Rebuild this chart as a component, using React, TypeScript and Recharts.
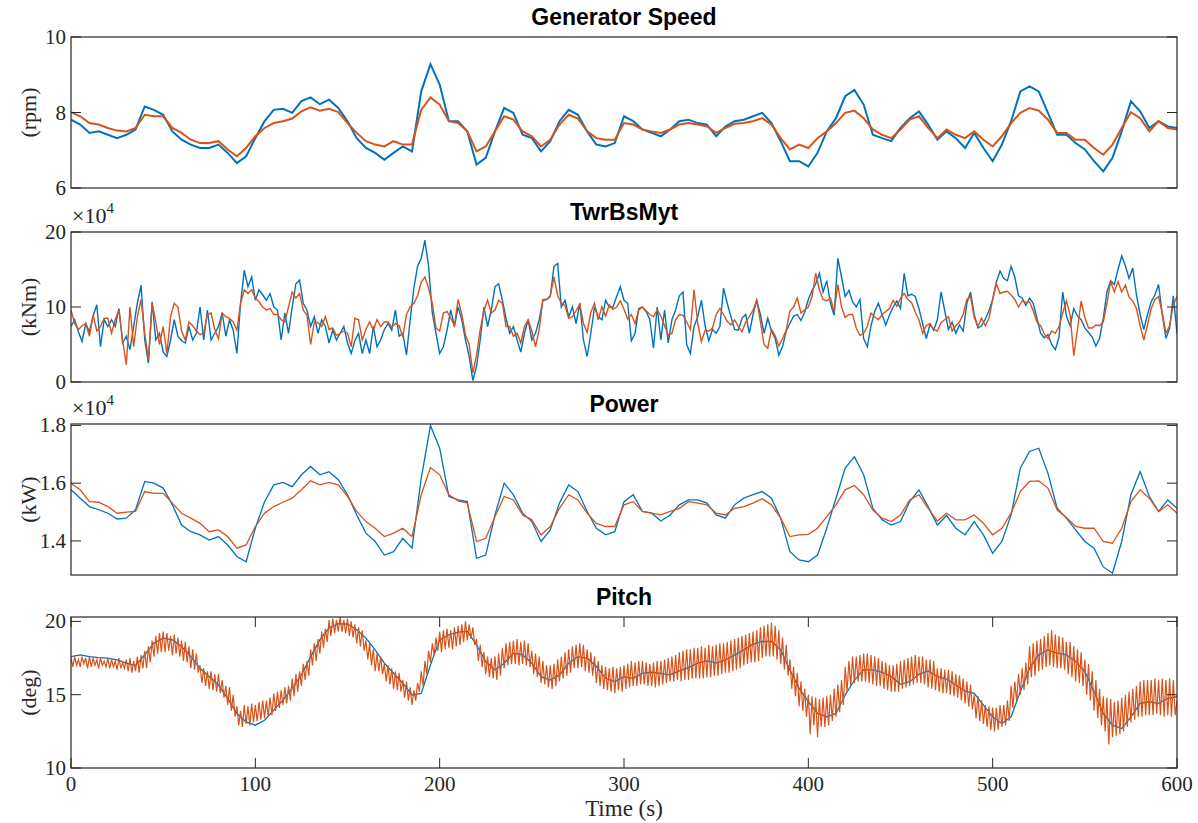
import { Line, LineChart, XAxis, YAxis } from "recharts";

// time steps (s) of the sampled series
const STEP_FAST = 1;
const STEP_TWR = 2;
const STEP_SLOW = 5;

const timeTicks = [0, 100, 200, 300, 400, 500, 600];

// Generator Speed (rpm), every 5 s
const genBlue = [
  7.81, 7.68, 7.46, 7.5, 7.41, 7.32, 7.41, 7.55, 8.16, 8.07,
  7.94, 7.5, 7.28, 7.15, 7.06, 7.06, 7.15, 6.93, 6.66, 6.84,
  7.32, 7.77, 8.07, 8.1, 7.99, 8.3, 8.4, 8.22, 8.34, 8.12,
  7.77, 7.32, 7.06, 6.93, 6.75, 6.93, 7.1, 6.97, 8.56, 9.28,
  8.74, 7.77, 7.77, 7.5, 6.62, 6.8, 7.5, 8.12, 7.99, 7.41,
  7.32, 6.97, 7.24, 7.77, 8.07, 7.94, 7.5, 7.15, 7.1, 7.19,
  7.9, 7.77, 7.55, 7.46, 7.37, 7.55, 7.77, 7.81, 7.72, 7.68,
  7.37, 7.63, 7.77, 7.81, 7.9, 7.99, 7.72, 7.24, 6.71, 6.71,
  6.57, 6.93, 7.5, 7.85, 8.43, 8.6, 8.21, 7.41, 7.32, 7.24,
  7.59, 7.85, 8.03, 7.68, 7.28, 7.5, 7.32, 7.06, 7.46, 7.06,
  6.71, 7.15, 7.77, 8.56, 8.69, 8.56, 7.99, 7.41, 7.41, 7.19,
  7.02, 6.71, 6.44, 6.8, 7.5, 8.3, 8.03, 7.59, 7.77, 7.63,
  7.59,
];
const genOrange = [
  8.01, 7.9, 7.72, 7.68, 7.59, 7.52, 7.5, 7.59, 7.94, 7.9,
  7.9, 7.59, 7.46, 7.28, 7.19, 7.19, 7.24, 7.02, 6.84, 7.06,
  7.37, 7.59, 7.72, 7.77, 7.84, 8.03, 8.14, 8.05, 8.1, 8.01,
  7.72, 7.46, 7.24, 7.15, 7.1, 7.24, 7.15, 7.15, 8.07, 8.4,
  8.21, 7.77, 7.72, 7.5, 6.97, 7.1, 7.5, 7.9, 7.81, 7.5,
  7.37, 7.1, 7.28, 7.68, 7.94, 7.84, 7.5, 7.32, 7.28, 7.28,
  7.72, 7.68, 7.55, 7.5, 7.46, 7.55, 7.68, 7.72, 7.68, 7.63,
  7.46, 7.59, 7.7, 7.72, 7.77, 7.85, 7.68, 7.32, 7.02, 7.15,
  7.06, 7.32, 7.5, 7.72, 7.99, 8.05, 7.85, 7.55, 7.41, 7.32,
  7.55, 7.81, 7.9, 7.59, 7.32, 7.55, 7.41, 7.32, 7.5, 7.28,
  7.1, 7.37, 7.72, 7.99, 8.12, 8.05, 7.81, 7.46, 7.46, 7.28,
  7.28, 7.06, 6.88, 7.15, 7.59, 8.01, 7.85, 7.5, 7.77, 7.59,
  7.55,
];

// TwrBsMyt (x1e4 kNm), every 2 s
const twrBlue = [
  7.4, 8.3, 6.7, 5.4, 7.8, 6.7, 8.8, 10.3, 4.7, 8.3,
  7.4, 8.3, 7.4, 9.8, 5.2, 6.1, 4.3, 7.4, 10.5, 12.9,
  5.6, 2.5, 10.7, 5.6, 6.5, 4.0, 3.4, 5.6, 8.3, 6.1,
  5.5, 5.2, 7.4, 5.6, 6.5, 10.0, 5.6, 9.6, 5.6, 6.5,
  7.4, 9.2, 6.1, 8.3, 6.9, 3.8, 10.5, 14.9, 12.7, 14.0,
  10.9, 12.3, 11.6, 10.9, 11.8, 10.0, 9.6, 5.6, 9.2, 6.5,
  10.0, 13.1, 13.6, 10.5, 9.6, 7.4, 8.7, 6.5, 8.3, 7.4,
  5.2, 6.9, 5.6, 6.5, 7.4, 5.2, 3.8, 5.5, 6.5, 3.8,
  5.6, 3.8, 7.4, 4.7, 5.6, 7.0, 7.8, 6.9, 9.6, 6.1,
  6.5, 3.6, 8.3, 12.5, 15.4, 16.5, 18.9, 15.4, 9.2, 6.5,
  3.8, 4.7, 6.9, 9.6, 7.4, 10.0, 8.3, 5.6, 3.4, 0.2,
  2.1, 5.6, 10.0, 7.4, 9.6, 12.7, 13.1, 10.9, 8.5, 6.5,
  7.4, 5.6, 4.0, 6.5, 8.3, 5.6, 6.5, 8.3, 10.9, 11.0,
  11.4, 15.4, 15.8, 10.0, 10.9, 8.7, 10.0, 7.8, 10.5, 5.6,
  3.4, 6.5, 10.0, 8.7, 8.3, 10.9, 10.0, 10.0, 11.4, 12.7,
  10.9, 10.5, 5.5, 6.5, 9.8, 10.0, 9.4, 8.3, 4.5, 10.0,
  5.6, 9.6, 5.2, 8.3, 9.6, 11.5, 12.0, 5.0, 3.8, 7.4,
  8.7, 10.9, 7.5, 5.5, 7.0, 6.5, 7.4, 12.5, 10.5, 8.7,
  7.0, 6.9, 8.5, 9.0, 6.5, 9.0, 10.9, 9.0, 6.5, 8.5,
  6.8, 5.8, 3.6, 4.7, 6.8, 7.8, 8.8, 9.0, 8.2, 9.3,
  11.0, 12.2, 13.1, 14.5, 12.0, 13.5, 10.5, 8.9, 16.5, 14.0,
  11.4, 12.2, 10.7, 10.0, 11.0, 5.8, 4.7, 7.5, 9.4, 10.5,
  9.0, 7.6, 8.9, 10.0, 10.8, 9.8, 14.5, 11.5, 11.7, 11.4,
  9.8, 7.8, 5.8, 7.7, 6.9, 8.3, 12.0, 9.5, 7.0, 8.0,
  6.5, 7.6, 6.8, 10.5, 12.0, 9.0, 7.2, 7.5, 8.4, 9.5,
  11.0, 13.3, 14.8, 13.8, 13.5, 15.4, 14.0, 11.5, 11.2, 10.2,
  11.2, 10.5, 8.5, 6.5, 5.9, 6.3, 5.0, 4.3, 6.0, 12.0,
  8.8, 7.5, 9.8, 8.8, 8.3, 7.2, 6.6, 6.0, 4.8, 5.8,
  8.5, 12.0, 13.5, 13.0, 15.0, 16.8, 15.5, 13.8, 15.2, 11.6,
  9.0, 7.0, 9.0, 10.7, 11.6, 13.0, 9.0, 5.8, 7.2, 11.5,
  6.5,
];
const twrOrange = [
  9.6, 7.8, 7.0, 7.5, 7.8, 6.1, 8.9, 6.8, 7.4, 8.5,
  8.5, 6.5, 8.3, 9.6, 5.6, 2.3, 10.0, 4.7, 8.7, 11.0,
  6.5, 3.0, 10.5, 8.0, 5.0, 7.4, 3.8, 8.7, 10.5, 10.0,
  6.8, 5.6, 8.0, 7.5, 6.8, 6.3, 6.5, 9.0, 9.2, 7.0,
  5.8, 9.2, 8.7, 8.5, 8.0, 6.9, 10.5, 12.3, 11.8, 12.3,
  11.2, 10.7, 10.0, 9.6, 9.8, 9.0, 9.0, 8.3, 8.0, 10.0,
  12.0, 11.2, 11.8, 9.6, 8.9, 5.0, 8.0, 7.9, 7.4, 8.7,
  7.0, 7.2, 6.2, 6.5, 6.8, 6.5, 4.7, 8.5, 8.3, 5.6,
  7.0, 8.0, 6.9, 8.3, 7.4, 8.0, 8.0, 7.3, 7.8, 7.5,
  6.0, 9.0, 10.0, 10.5, 11.5, 13.3, 14.0, 12.5, 10.5, 7.2,
  6.8, 9.2, 9.4, 8.5, 7.5, 11.0, 9.0, 6.3, 5.0, 1.2,
  3.6, 7.0, 9.5, 10.9, 9.2, 9.6, 10.9, 10.5, 7.4, 7.4,
  6.1, 6.5, 5.2, 7.4, 8.3, 6.8, 4.7, 7.0, 11.0, 11.0,
  11.5, 14.0, 11.5, 10.5, 10.2, 8.5, 8.7, 9.5, 10.4, 7.8,
  6.6, 9.3, 10.5, 8.3, 10.0, 8.8, 10.3, 9.7, 10.0, 10.8,
  9.7, 8.4, 9.0, 7.8, 9.6, 10.0, 9.5, 9.0, 8.7, 9.6,
  8.8, 7.5, 6.2, 6.5, 8.3, 9.0, 8.9, 8.0, 7.0, 12.3,
  7.8, 5.4, 6.9, 6.8, 7.2, 9.0, 9.8, 9.0, 8.1, 7.6,
  8.3, 7.4, 6.7, 8.0, 8.7, 9.6, 10.9, 8.0, 5.0, 4.5,
  7.0, 6.2, 4.8, 5.8, 6.9, 9.5, 10.0, 11.2, 9.2, 9.6,
  10.0, 11.4, 14.5, 12.3, 11.0, 10.8, 11.2, 9.4, 13.0, 10.0,
  8.6, 9.0, 9.0, 7.2, 6.2, 6.5, 7.4, 9.2, 8.7, 8.3,
  9.0, 9.4, 9.8, 10.9, 10.1, 11.2, 11.8, 11.0, 10.6, 9.3,
  8.3, 6.5, 7.5, 7.8, 7.0, 6.8, 7.9, 8.3, 8.7, 6.8,
  7.5, 8.0, 9.0, 11.0, 11.4, 8.6, 7.4, 8.5, 7.5, 8.5,
  11.0, 13.1, 11.8, 12.0, 12.1, 11.6, 11.0, 10.0, 10.8, 10.6,
  10.7, 9.5, 8.0, 7.5, 6.4, 5.8, 6.8, 6.5, 7.4, 9.2,
  10.8, 9.0, 3.5, 7.0, 10.8, 8.6, 7.2, 7.2, 7.6, 7.5,
  8.0, 10.5, 13.4, 12.0, 13.4, 12.0, 12.9, 11.3, 10.8, 9.8,
  7.5, 5.6, 7.6, 9.8, 11.0, 11.4, 9.2, 6.5, 7.5, 10.3,
  11.4,
];

// Power (x1e4 kW), every 5 s
const powerBlue = [
  1.577, 1.548, 1.519, 1.508, 1.496, 1.476, 1.479, 1.508, 1.606, 1.6,
  1.583, 1.525, 1.455, 1.432, 1.421, 1.403, 1.415, 1.386, 1.346, 1.328,
  1.444, 1.536, 1.594, 1.603, 1.588, 1.629, 1.658, 1.629, 1.64, 1.612,
  1.56, 1.49, 1.427, 1.398, 1.351, 1.363, 1.409, 1.375, 1.617, 1.8,
  1.721, 1.554, 1.542, 1.536, 1.34, 1.351, 1.49, 1.6, 1.56, 1.496,
  1.467, 1.398, 1.438, 1.531, 1.594, 1.571, 1.502, 1.444, 1.421, 1.432,
  1.536, 1.56, 1.502, 1.496, 1.469, 1.49, 1.525, 1.542, 1.542, 1.531,
  1.49, 1.479, 1.525, 1.548, 1.56, 1.571, 1.548, 1.479, 1.363, 1.334,
  1.328, 1.351, 1.444, 1.548, 1.652, 1.692, 1.629, 1.513, 1.473, 1.455,
  1.467, 1.536, 1.577, 1.519, 1.455, 1.488, 1.444, 1.421, 1.467, 1.421,
  1.357, 1.398, 1.49, 1.652, 1.71, 1.721, 1.634, 1.513, 1.479, 1.438,
  1.398, 1.375, 1.31, 1.288, 1.398, 1.56, 1.64, 1.554, 1.502, 1.542,
  1.513,
];
const powerOrange = [
  1.6, 1.577, 1.536, 1.534, 1.519, 1.496, 1.5, 1.502, 1.571, 1.565,
  1.565, 1.531, 1.496, 1.479, 1.461, 1.432, 1.438, 1.415, 1.375, 1.386,
  1.45, 1.496, 1.519, 1.534, 1.548, 1.577, 1.608, 1.594, 1.603, 1.594,
  1.554, 1.502, 1.467, 1.444, 1.415, 1.427, 1.444, 1.415, 1.56, 1.654,
  1.629, 1.56, 1.539, 1.531, 1.398, 1.409, 1.484, 1.554, 1.542, 1.49,
  1.473, 1.421, 1.45, 1.513, 1.56, 1.542, 1.496, 1.461, 1.45, 1.45,
  1.525, 1.536, 1.502, 1.496, 1.49, 1.502, 1.513, 1.536, 1.531, 1.525,
  1.496, 1.49, 1.513, 1.519, 1.531, 1.546, 1.525, 1.479, 1.415, 1.421,
  1.423, 1.444, 1.484, 1.525, 1.577, 1.592, 1.56, 1.507, 1.479, 1.467,
  1.49, 1.542, 1.56, 1.513, 1.469, 1.496, 1.473, 1.473, 1.49, 1.461,
  1.421, 1.444, 1.496, 1.571, 1.606, 1.608, 1.583, 1.507, 1.481, 1.45,
  1.444, 1.444, 1.398, 1.392, 1.444, 1.536, 1.577, 1.548, 1.502, 1.525,
  1.496,
];

// Pitch (deg): blue every 5 s, orange every 1 s
const pitchBlue = [
  17.6, 17.72, 17.6, 17.53, 17.49, 17.37, 17.15, 16.99, 17.72, 18.52,
  18.86, 18.74, 18.29, 17.6, 16.8, 16.23, 15.66, 14.75, 13.72, 13.15,
  12.92, 13.26, 13.95, 14.63, 15.43, 16.35, 17.6, 18.74, 19.54, 19.84,
  19.82, 19.43, 18.86, 18.06, 17.15, 16.46, 15.78, 14.98, 15.09, 17.03,
  18.74, 19.09, 19.27, 19.32, 18.4, 17.26, 16.69, 17.15, 17.83, 17.72,
  17.15, 16.23, 16.0, 16.35, 17.15, 17.6, 17.49, 16.92, 16.12, 15.89,
  16.23, 16.12, 16.46, 16.53, 16.46, 16.35, 16.62, 16.85, 17.15, 17.31,
  17.15, 17.37, 17.72, 18.06, 18.45, 18.63, 18.63, 18.06, 16.69, 15.43,
  14.52, 13.72, 13.49, 13.72, 14.98, 16.0, 16.69, 16.69, 16.53, 16.23,
  15.71, 15.89, 16.39, 16.62, 16.23, 16.07, 15.66, 15.25, 15.09, 14.29,
  13.49, 13.04, 13.49, 15.21, 16.8, 17.72, 18.06, 17.83, 17.72, 17.26,
  16.58, 15.21, 13.72, 12.92, 12.69, 13.49, 14.41, 14.52, 14.41, 14.75,
  14.86,
];
const pitchOrange = [
  17.5, 16.9, 17.6, 17.0, 17.4, 16.9, 17.6, 17.1, 17.5, 16.8,
  17.6, 16.9, 17.5, 17.0, 17.4, 16.8, 17.5, 17.0, 17.3, 16.9,
  17.5, 16.8, 17.4, 16.9, 17.3, 16.7, 17.5, 16.8, 17.2, 16.8,
  17.4, 16.6, 17.5, 16.5, 17.3, 16.6, 17.6, 16.5, 17.7, 16.8,
  18.0, 16.8, 18.3, 17.2, 18.7, 17.6, 19.0, 17.8, 19.2, 17.9,
  19.3, 17.9, 19.2, 18.0, 19.0, 17.7, 19.1, 17.8, 18.9, 17.6,
  18.7, 17.3, 18.6, 17.2, 18.3, 16.8, 18.1, 16.7, 17.8, 16.5,
  17.0, 15.8, 16.8, 15.6, 16.6, 15.4, 16.6, 15.3, 16.4, 15.2,
  16.4, 15.1, 16.0, 14.8, 15.6, 14.3, 15.5, 13.9, 15.0, 13.5,
  14.2, 12.9, 13.9, 12.8, 14.3, 13.0, 14.2, 12.9, 14.4, 13.1,
  14.3, 13.2, 14.5, 13.3, 14.6, 13.4, 14.6, 13.5, 14.8, 13.6,
  15.1, 13.9, 15.2, 14.1, 15.3, 14.3, 15.5, 14.4, 15.6, 14.6,
  16.1, 14.9, 16.4, 15.2, 16.6, 15.6, 17.1, 16.0, 17.3, 16.3,
  18.1, 17.0, 18.5, 17.3, 18.8, 17.8, 19.3, 18.2, 19.5, 18.6,
  20.1, 19.0, 20.2, 19.2, 20.1, 19.3, 20.3, 19.3, 20.1, 19.2,
  20.2, 19.0, 20.0, 18.9, 19.8, 18.5, 19.6, 18.3, 19.4, 18.0,
  18.7, 17.4, 18.5, 17.0, 18.1, 16.6, 17.8, 16.6, 17.6, 16.4,
  17.1, 15.9, 17.0, 15.7, 16.8, 15.4, 16.6, 15.3, 16.5, 15.2,
  16.0, 14.8, 15.9, 14.6, 15.5, 14.3, 15.3, 14.6, 15.8, 15.2,
  16.6, 15.6, 17.3, 16.4, 18.0, 17.2, 18.5, 17.7, 18.9, 18.0,
  19.3, 17.9, 19.4, 18.1, 19.5, 18.2, 19.4, 18.1, 19.6, 18.3,
  19.7, 18.4, 19.8, 18.6, 20.0, 18.7, 19.8, 18.8, 19.6, 18.4,
  18.8, 17.3, 18.4, 16.9, 17.9, 16.4, 17.6, 16.2, 17.5, 16.1,
  17.6, 16.0, 17.8, 16.3, 18.2, 16.8, 18.5, 17.0, 18.6, 17.1,
  18.7, 17.1, 18.8, 17.0, 18.6, 17.1, 18.7, 17.0, 18.5, 16.9,
  18.0, 16.4, 17.8, 16.2, 17.6, 15.8, 17.3, 15.7, 17.0, 15.5,
  17.0, 15.4, 17.1, 15.6, 17.4, 15.9, 17.6, 16.1, 17.9, 16.3,
  18.1, 16.5, 18.3, 16.8, 18.4, 16.8, 18.5, 16.9, 18.4, 16.6,
  18.1, 16.5, 17.9, 16.3, 17.6, 15.8, 17.3, 15.6, 17.0, 15.4,
  16.9, 15.3, 16.8, 15.2, 16.9, 15.1, 16.8, 15.3, 16.9, 15.2,
  17.0, 15.4, 17.1, 15.5, 17.3, 15.6, 17.2, 15.6, 17.3, 15.7,
  17.3, 15.7, 17.2, 15.6, 17.1, 15.6, 17.2, 15.5, 17.3, 15.6,
  17.3, 15.7, 17.4, 15.8, 17.5, 15.9, 17.6, 15.9, 17.7, 16.0,
  17.9, 15.9, 18.0, 16.0, 18.1, 16.0, 18.1, 16.1, 18.2, 16.1,
  18.2, 16.1, 18.3, 16.1, 18.2, 16.2, 18.4, 16.2, 18.3, 16.3,
  18.4, 16.3, 18.5, 16.4, 18.5, 16.5, 18.6, 16.5, 18.7, 16.6,
  18.8, 16.7, 18.9, 16.8, 19.0, 17.0, 19.1, 17.1, 19.2, 17.2,
  19.3, 17.2, 19.4, 17.3, 19.6, 17.5, 19.7, 17.6, 19.8, 17.6,
  19.9, 17.6, 19.7, 17.4, 19.4, 17.1, 18.9, 16.7, 18.4, 16.3,
  17.4, 15.4, 16.9, 14.9, 16.5, 14.2, 15.9, 13.9, 15.4, 13.5,
  15.0, 12.3, 14.9, 12.9, 14.8, 12.1, 14.7, 12.8, 14.8, 12.8,
  14.9, 12.9, 15.0, 13.2, 15.4, 13.5, 15.7, 13.8, 16.0, 14.3,
  16.9, 15.2, 17.3, 15.6, 17.6, 15.8, 17.6, 15.9, 17.7, 15.9,
  17.8, 15.9, 17.8, 15.8, 17.7, 15.7, 17.6, 15.6, 17.5, 15.6,
  17.3, 15.4, 17.2, 15.3, 17.0, 15.2, 17.0, 15.2, 17.1, 15.2,
  17.3, 15.4, 17.4, 15.5, 17.5, 15.6, 17.6, 15.7, 17.7, 15.8,
  17.6, 15.8, 17.6, 15.7, 17.4, 15.5, 17.4, 15.4, 17.3, 15.3,
  16.8, 15.2, 16.8, 15.1, 16.7, 15.1, 16.7, 15.0, 16.6, 14.9,
  16.4, 14.8, 16.3, 14.6, 16.1, 14.4, 15.9, 14.2, 15.7, 14.0,
  15.0, 13.4, 14.9, 13.2, 14.6, 13.0, 14.3, 12.8, 14.2, 12.6,
  14.1, 12.5, 14.1, 12.6, 14.3, 12.8, 14.3, 12.9, 14.6, 13.2,
  15.6, 14.1, 15.9, 14.5, 16.4, 15.0, 16.8, 15.3, 17.2, 15.7,
  18.3, 16.2, 18.5, 16.3, 18.7, 16.6, 18.8, 16.7, 19.0, 16.9,
  19.2, 17.0, 19.4, 16.9, 19.1, 16.8, 19.0, 16.8, 18.9, 16.7,
  18.6, 16.4, 18.6, 16.2, 18.3, 15.9, 18.1, 15.8, 17.9, 15.6,
  17.4, 15.0, 17.1, 14.6, 16.6, 13.9, 16.0, 13.4, 15.4, 12.9,
  14.9, 12.5, 14.8, 11.6, 14.7, 12.1, 14.5, 12.2, 14.6, 12.3,
  14.8, 12.5, 15.0, 12.8, 15.2, 13.1, 15.4, 13.3, 15.6, 13.5,
  15.9, 13.5, 16.0, 13.6, 16.0, 13.6, 16.0, 13.6, 16.1, 13.7,
  16.0, 13.6, 16.1, 13.5, 16.0, 13.6, 16.1, 13.5, 16.0, 13.6,
  14.6,
];

const BLUE = "#0072BD";
const ORANGE = "#D95319";
const AXIS = "#262626";
const SERIF = "'Liberation Serif', 'Times New Roman', serif";
const SANS = "'Liberation Sans', Arial, sans-serif";

const W = 1198;
const PLOT_LEFT = 71;
const PLOT_RIGHT = 1177;
const PAD = 20;
const X_AXIS_H = 50;

const toRows = (vals: number[], step: number) => vals.map((v, i) => ({ t: i * step, v }));

type Panel = {
  title: string;
  unit: string;
  top: number;
  bottom: number;
  domain: [number, number];
  ticks: number[];
  decimals: number;
  exp?: boolean;
  showX?: boolean;
  lines: { rows: { t: number; v: number }[]; color: string; width: number }[];
};

const panels: Panel[] = [
  {
    title: "Generator Speed",
    unit: "(rpm)",
    top: 37,
    bottom: 188,
    domain: [6, 10],
    ticks: [6, 8, 10],
    decimals: 0,
    lines: [
      { rows: toRows(genBlue, STEP_SLOW), color: BLUE, width: 2 },
      { rows: toRows(genOrange, STEP_SLOW), color: ORANGE, width: 2 },
    ],
  },
  {
    title: "TwrBsMyt",
    unit: "(kNm)",
    top: 232,
    bottom: 382,
    domain: [0, 20],
    ticks: [0, 10, 20],
    decimals: 0,
    exp: true,
    lines: [
      { rows: toRows(twrBlue, STEP_TWR), color: BLUE, width: 1.4 },
      { rows: toRows(twrOrange, STEP_TWR), color: ORANGE, width: 1.4 },
    ],
  },
  {
    title: "Power",
    unit: "(kW)",
    top: 424,
    bottom: 575,
    domain: [1.282, 1.805],
    ticks: [1.4, 1.6, 1.8],
    decimals: 1,
    exp: true,
    lines: [
      { rows: toRows(powerBlue, STEP_SLOW), color: BLUE, width: 1.3 },
      { rows: toRows(powerOrange, STEP_SLOW), color: ORANGE, width: 1.3 },
    ],
  },
  {
    title: "Pitch",
    unit: "(deg)",
    top: 617,
    bottom: 768,
    domain: [10, 20.3],
    ticks: [10, 15, 20],
    decimals: 0,
    showX: true,
    lines: [
      { rows: toRows(pitchBlue, STEP_SLOW), color: BLUE, width: 1.3 },
      { rows: toRows(pitchOrange, STEP_FAST), color: ORANGE, width: 1.2 },
    ],
  },
];

function PanelChart({ p }: { p: Panel }) {
  const plotH = p.bottom - p.top;
  const height = PAD + plotH + (p.showX ? X_AXIS_H : PAD);
  const yTick = (props: any) => {
    const { y, payload } = props;
    return (
      <g>
        <line x1={PLOT_LEFT} x2={PLOT_LEFT + 10} y1={y} y2={y} stroke={AXIS} />
        <line x1={PLOT_RIGHT - 10} x2={PLOT_RIGHT} y1={y} y2={y} stroke={AXIS} />
        <text x={66} y={y + 7} textAnchor="end" fontFamily={SERIF} fontSize={21} fill={AXIS}>
          {Number(payload.value).toFixed(p.decimals)}
        </text>
      </g>
    );
  };
  const xTick = (props: any) => {
    const { x, payload } = props;
    return (
      <g>
        <line x1={x} x2={x} y1={PAD} y2={PAD + 10} stroke={AXIS} />
        <line x1={x} x2={x} y1={PAD + plotH} y2={PAD + plotH - 10} stroke={AXIS} />
        <text x={x} y={PAD + plotH + 23} textAnchor="middle" fontFamily={SERIF} fontSize={21} fill={AXIS}>
          {payload.value}
        </text>
      </g>
    );
  };
  return (
    <div style={{ position: "absolute", left: 0, top: p.top - PAD }}>
      <LineChart
        width={W}
        height={height}
        margin={{ top: PAD, right: W - PLOT_RIGHT, bottom: p.showX ? 0 : PAD, left: 0 }}
      >
        <XAxis
          type="number"
          dataKey="t"
          domain={[0, 600]}
          ticks={timeTicks}
          hide={!p.showX}
          height={X_AXIS_H}
          axisLine={false}
          tickLine={false}
          tick={xTick}
          interval={0}
          allowDataOverflow
        />
        <YAxis
          type="number"
          domain={p.domain}
          ticks={p.ticks}
          width={PLOT_LEFT}
          axisLine={false}
          tickLine={false}
          tick={yTick}
          interval={0}
          allowDataOverflow
        />
        {p.lines.map((l, i) => (
          <Line
            key={i}
            data={l.rows}
            dataKey="v"
            type="linear"
            stroke={l.color}
            strokeWidth={l.width}
            dot={false}
            activeDot={false}
            isAnimationActive={false}
          />
        ))}
      </LineChart>
    </div>
  );
}

export default function App() {
  return (
    <div style={{ position: "absolute", left: 0, top: 0, width: W, height: 823, background: "#fff" }}>
      {panels.map((p) => (
        <PanelChart key={p.title} p={p} />
      ))}
      <svg width={W} height={823} style={{ position: "absolute", left: 0, top: 0, pointerEvents: "none" }}>
        {panels.map((p) => {
          const mid = (p.top + p.bottom) / 2;
          return (
            <g key={p.title}>
              <rect
                x={PLOT_LEFT}
                y={p.top}
                width={PLOT_RIGHT - PLOT_LEFT}
                height={p.bottom - p.top}
                fill="none"
                stroke={AXIS}
                strokeWidth={1.2}
              />
              <text
                x={(PLOT_LEFT + PLOT_RIGHT) / 2}
                y={p.top - 12}
                textAnchor="middle"
                fontFamily={SANS}
                fontWeight="bold"
                fontSize={23}
                fill="#000"
              >
                {p.title}
              </text>
              <text
                x={36}
                y={mid}
                transform={`rotate(-90 36 ${mid})`}
                textAnchor="middle"
                fontFamily={SERIF}
                fontSize={22}
                fill={AXIS}
              >
                {p.unit}
              </text>
              {p.exp && (
                <text x={72} y={p.top - 9} fontFamily={SERIF} fontSize={22} fill={AXIS}>
                  ×10
                  <tspan fontSize={15} dy={-10}>
                    4
                  </tspan>
                </text>
              )}
            </g>
          );
        })}
        <text x={(PLOT_LEFT + PLOT_RIGHT) / 2} y={816} textAnchor="middle" fontFamily={SERIF} fontSize={23} fill={AXIS}>
          Time (s)
        </text>
      </svg>
    </div>
  );
}
